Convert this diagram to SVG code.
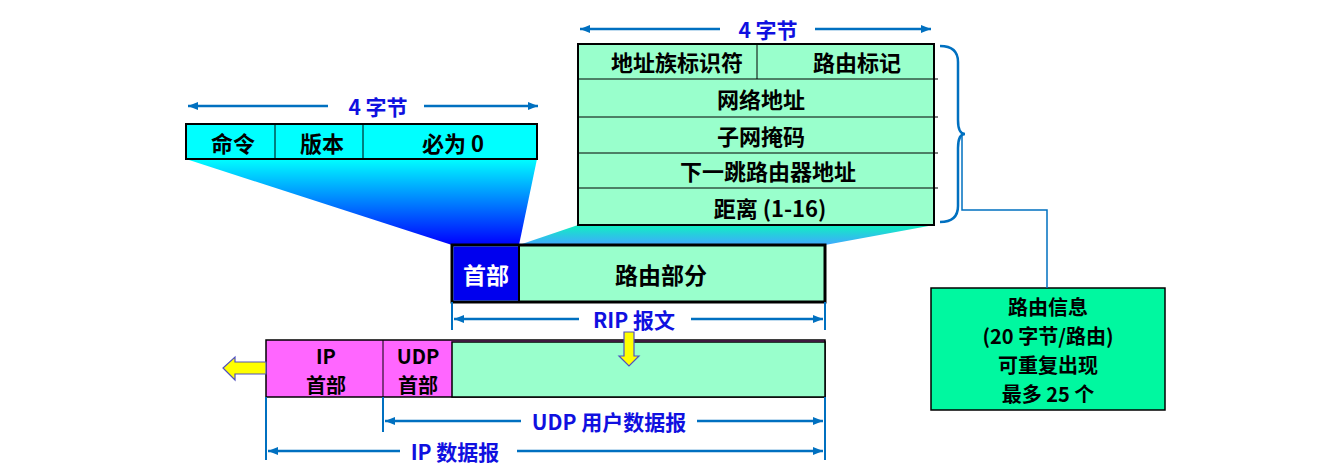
<svg xmlns="http://www.w3.org/2000/svg" width="1318" height="474" viewBox="0 0 1318 474">
<style>
text{font-family:"Noto Sans CJK SC","Liberation Sans",sans-serif;font-weight:bold;text-anchor:middle;dominant-baseline:central}
.t{font-size:22px;fill:#000}
.m{font-size:20px;fill:#000}
.b{font-size:21px;fill:#1010E0}
.dim{stroke:#0070C0;stroke-width:2.5;fill:none}
.tick{stroke:#0070C0;stroke-width:2;fill:none}
.cell{stroke:#000;stroke-width:1}
.ya{fill:#FFFF00;stroke:#5050C0;stroke-width:1.2}
</style>
<defs>
<linearGradient id="gl" x1="0" y1="0" x2="0" y2="1"><stop offset="0" stop-color="#00FFFF"/><stop offset="1" stop-color="#0000FF"/></linearGradient>
<linearGradient id="gr" x1="0" y1="0" x2="0" y2="1"><stop offset="0" stop-color="#10F0C0"/><stop offset="1" stop-color="#40A8FF"/></linearGradient>
<marker id="ah" viewBox="0 0 10 8" refX="10" refY="4" markerWidth="10" markerHeight="8" markerUnits="userSpaceOnUse" orient="auto-start-reverse"><path d="M0,0 L10,4 L0,8 z" fill="#0070C0"/></marker>
</defs>
<rect width="1318" height="474" fill="#fff"/>
<g id="funnels">
<polygon points="186,159 537,159 519,245 452,245" fill="url(#gl)"/>
<polygon points="578,225 934,225 825,245 519,245" fill="url(#gr)"/>
</g>
<g id="rip-header">
<rect x="186" y="124" width="351" height="35" fill="#00FFFF" stroke="#000" stroke-width="2"/>
<line class="cell" x1="275" y1="124" x2="275" y2="159"/>
<line class="cell" x1="363" y1="124" x2="363" y2="159"/>
<text class="t" x="233" y="142">命令</text>
<text class="t" x="322" y="142">版本</text>
<text class="t" x="453" y="142">必为 0</text>
</g>
<g id="route-entry">
<rect x="578" y="44" width="356" height="181" fill="#99FFCC" stroke="#000" stroke-width="2"/>
<line class="cell" x1="578" y1="79" x2="938" y2="79"/>
<line class="cell" x1="578" y1="117" x2="938" y2="117"/>
<line class="cell" x1="578" y1="153" x2="938" y2="153"/>
<line class="cell" x1="578" y1="188" x2="938" y2="188"/>
<line class="cell" x1="757" y1="44" x2="757" y2="79"/>
<text class="t" x="677" y="61">地址族标识符</text>
<text class="t" x="857" y="61">路由标记</text>
<text class="t" x="761" y="98">网络地址</text>
<text class="t" x="761" y="135">子网掩码</text>
<text class="t" x="768" y="170">下一跳路由器地址</text>
<text class="t" x="770" y="207">距离 (1-16)</text>
</g>
<g id="rip-message">
<rect x="452" y="245" width="373" height="57" fill="#99FFCC" stroke="#000" stroke-width="3"/>
<rect x="453.5" y="246.5" width="65.5" height="54" fill="#0000EE"/>
<line x1="519" y1="245" x2="519" y2="302" stroke="#000" stroke-width="2"/>
<text x="486" y="274" style="font-size:23px;fill:#fff">首部</text>
<text x="661" y="274" style="font-size:23px">路由部分</text>
</g>
<g id="ip-datagram">
<rect x="266" y="340" width="559" height="57" fill="#FF66FF" stroke="#000" stroke-width="1.5"/>
<rect x="452" y="342" width="373" height="55" fill="#99FFCC" stroke="#000" stroke-width="1.5"/>
<line class="cell" x1="383" y1="340" x2="383" y2="397"/>
<text class="m" x="326" y="355"><tspan x="326" y="355">IP</tspan><tspan x="326" y="384">首部</tspan></text>
<text class="m" x="418" y="355"><tspan x="418" y="355">UDP</tspan><tspan x="418" y="384">首部</tspan></text>
</g>
<g id="route-info">
<rect x="931" y="288" width="234" height="122" fill="#00F8A0" stroke="#000" stroke-width="1.5"/>
<text class="m" x="1048" y="306"><tspan x="1048" y="306">路由信息</tspan><tspan x="1048" y="335">(20 字节/路由)</tspan><tspan x="1048" y="364">可重复出现</tspan><tspan x="1048" y="393">最多 25 个</tspan></text>
</g>
<g id="yellow-arrows">
<path class="ya" d="M266,362 L235,362 L235,357 L223,368 L235,380 L235,374 L266,374 z"/>
<path class="ya" d="M624,332 L634,332 L634,356 L639,356 L629,366 L619,356 L624,356 z"/>
</g>
<g id="connectors">
<line class="dim" x1="328" y1="106" x2="188" y2="106" marker-end="url(#ah)"/>
<line class="dim" x1="424" y1="106" x2="538" y2="106" marker-end="url(#ah)"/>
<text class="b" x="378" y="106">4 字节</text>
<line class="dim" x1="720" y1="29" x2="580" y2="29" marker-end="url(#ah)"/>
<line class="dim" x1="815" y1="29" x2="931" y2="29" marker-end="url(#ah)"/>
<text class="b" x="768" y="29">4 字节</text>
<line class="tick" x1="452" y1="302" x2="452" y2="330"/>
<line class="tick" x1="825" y1="302" x2="825" y2="330"/>
<line class="dim" x1="579" y1="319" x2="454" y2="319" marker-end="url(#ah)"/>
<line class="dim" x1="691" y1="319" x2="823" y2="319" marker-end="url(#ah)"/>
<text class="b" x="634" y="319">RIP 报文</text>
<line class="tick" x1="383" y1="397" x2="383" y2="432"/>
<line class="tick" x1="825" y1="397" x2="825" y2="460"/>
<line class="tick" x1="266" y1="397" x2="266" y2="460"/>
<line class="dim" x1="521" y1="421" x2="385" y2="421" marker-end="url(#ah)"/>
<line class="dim" x1="697" y1="421" x2="823" y2="421" marker-end="url(#ah)"/>
<text class="b" x="609" y="421">UDP 用户数据报</text>
<line class="dim" x1="400" y1="451" x2="268" y2="451" marker-end="url(#ah)"/>
<line class="dim" x1="517" y1="451" x2="823" y2="451" marker-end="url(#ah)"/>
<text class="b" x="455" y="451">IP 数据报</text>
<path class="dim" d="M940,46 Q958,46 958,62 L958,120 Q958,134 965,134 Q958,134 958,148 L958,206 Q958,222 940,222"/>
<path d="M962,134 L962,210 L1047,210 L1047,288" fill="none" stroke="#0070C0" stroke-width="1.5"/>
</g>
</svg>
